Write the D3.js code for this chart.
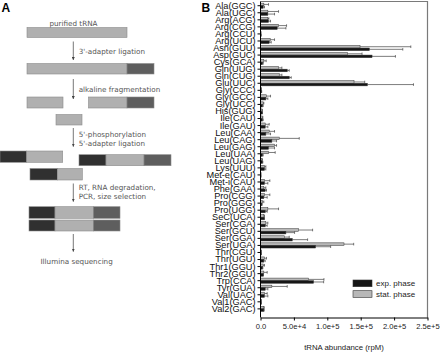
<!DOCTYPE html>
<html>
<head>
<meta charset="utf-8">
<script src="https://cdn.jsdelivr.net/npm/d3@7"></script>
<style>
  body { margin: 0; background: #fff; }
  svg { display: block; }
  .diag text { font-family: "DejaVu Sans", sans-serif; font-size: 7.2px; fill: #555; }
  .chart text { font-family: "Liberation Sans", Arial, sans-serif; }
</style>
</head>
<body>
<div id="chart"></div>
<script>
// tRNA species (panel B)
const categories = [
  "Ala(GGC)", "Ala(UGC)", "Arg(ACG)", "Arg(CCG)", "Arg(CCU)", "Arg(UCU)", "Asn(GUU)", "Asp(GUC)",
  "Cys(GCA)", "Gln(UUG)", "Gln(CUG)", "Glu(UUC)", "Gly(CCC)", "Gly(GCC)", "Gly(UCC)", "His(GUG)",
  "Ile(CAU)", "Ile(GAU)", "Leu(CAA)", "Leu(CAG)", "Leu(GAG)", "Leu(UAA)", "Leu(UAG)", "Lys(UUU)",
  "Met-e(CAU)", "Met-i(CAU)", "Phe(GAA)", "Pro(CGG)", "Pro(GGG)", "Pro(UGG)", "SeC(UCA)", "Ser(CGA)",
  "Ser(GCU)", "Ser(GGA)", "Ser(UGA)", "Thr(CGU)", "Thr(UGU)", "Thr1(GGU)", "Thr2(GGU)", "Trp(CCA)",
  "Tyr(GUA)", "Val(UAC)", "Val1(GAC)", "Val2(GAC)"
];

// stationary phase (grey bars)
const statValues = [5000, 11000, 11000, 27000, 500, 14500, 149000, 130000,
  5000, 27000, 28000, 140000, 1000, 9000, 4000, 2000,
  2500, 7000, 13000, 28000, 21000, 12000, 2000, 6000,
  500, 6000, 5000, 6000, 3000, 11000, 5000, 8000,
  57000, 36000, 125000, 1000, 6000, 4000, 5000, 72000,
  17000, 6000, 1000, 5000];
const statErr = [7000, 16000, 1500, 12000, 300, 6500, 76000, 22000,
  3500, 5000, 4000, 16000, 300, 6000, 1000, 1000,
  1000, 6000, 8000, 30000, 3000, 10000, 1000, 2000,
  300, 8000, 3000, 8000, 2000, 16000, 1000, 3000,
  21000, 7000, 14500, 300, 3000, 2000, 5000, 23000,
  23000, 4000, 300, 500];

// exponential phase (black bars)
const expValues = [4000, 11000, 12000, 25000, 800, 13000, 163000, 167000,
  3000, 40000, 43000, 160000, 1500, 8000, 3000, 2500,
  3000, 7000, 8000, 17000, 12000, 3000, 3000, 6000,
  600, 6000, 7000, 5000, 2000, 7000, 5500, 7000,
  38000, 47500, 82500, 1000, 5000, 3000, 4000, 79500,
  7000, 6000, 1000, 5000];
const expErr = [2000, 10000, 3000, 13000, 300, 3000, 50000, 35000,
  1000, 3000, 3000, 69000, 300, 3000, 1000, 500,
  1000, 4000, 7000, 7000, 9000, 1000, 500, 2000,
  300, 5000, 2000, 5000, 500, 3000, 500, 3000,
  13000, 23000, 22500, 300, 2000, 500, 500, 15000,
  4000, 5000, 300, 500];

const xTicks = [0, 5e4, 1e5, 1.5e5, 2e5, 2.5e5];
const seriesNames = ["stat. phase", "exp. phase"];
const seriesColors = { "exp. phase": "#161616", "stat. phase": "#b8b8b8" };

const svg = d3.select("#chart").append("svg")
  .attr("width", 440)
  .attr("height", 352);

// ---------- Panel A: workflow diagram ----------
const LIGHT = "#b0b0b0", DARK3 = "#5e5e5e", DARK5 = "#303030";
const pieces = [
  // [x, y, w, h, fill]
  [27, 27.5, 100, 10, LIGHT],
  [27, 63.5, 100, 10.5, LIGHT], [127, 63.5, 27, 10.5, DARK3],
  [27, 97, 36, 11, LIGHT],
  [88.5, 97, 38.5, 11, LIGHT], [127, 97, 27, 11, DARK3],
  [56, 114.5, 26, 10.5, LIGHT],
  [0, 151, 26.7, 11.3, DARK5], [26.7, 151, 36, 11.3, LIGHT],
  [79, 154.7, 27, 11, DARK5], [106, 154.7, 38, 11, LIGHT], [144, 154.7, 27, 11, DARK3],
  [30, 168.5, 27.3, 11.5, DARK5], [57.3, 168.5, 25, 11.5, LIGHT],
  [29, 206.7, 26, 11.6, DARK5], [55, 206.7, 38.3, 11.6, LIGHT], [93.3, 206.7, 26.7, 11.6, DARK3],
  [29, 220, 26, 11, DARK5], [55, 220, 38.3, 11, LIGHT], [93.3, 220, 26.7, 11, DARK3]
];
const arrows = [[41.5, 60], [79, 99], [128, 146.7], [183.5, 201.7], [234, 251.7]];
const labels = [
  ["purified tRNA", 49.5, 25.5],
  ["3'-adapter ligation", 78.7, 53.5],
  ["alkaline fragmentation", 78.7, 91.5],
  ["5'-phosphorylation", 78.7, 136.5],
  ["5'-adapter ligation", 78.7, 145.5],
  ["RT, RNA degradation,", 78.7, 189.5],
  ["PCR, size selection", 78.7, 198.5],
  ["Illumina sequencing", 40.5, 263.5]
];

const diag = svg.append("g").attr("class", "diag");
diag.selectAll("rect").data(pieces).join("rect")
  .attr("x", d => d[0]).attr("y", d => d[1])
  .attr("width", d => d[2]).attr("height", d => d[3])
  .attr("fill", d => d[4])
  .attr("stroke", "#8a8a8a").attr("stroke-width", 0.6);

svg.append("defs").append("marker")
  .attr("id", "head").attr("viewBox", "0 0 10 10")
  .attr("refX", 10).attr("refY", 5)
  .attr("markerWidth", 4).attr("markerHeight", 4)
  .attr("orient", "auto")
  .append("path").attr("d", "M0,0L10,5L0,10z").attr("fill", "#444");

diag.selectAll("line").data(arrows).join("line")
  .attr("x1", 73.3).attr("x2", 73.3)
  .attr("y1", d => d[0]).attr("y2", d => d[1])
  .attr("stroke", "#555").attr("stroke-width", 0.8)
  .attr("marker-end", "url(#head)");

diag.selectAll("text").data(labels).join("text")
  .attr("x", d => d[1]).attr("y", d => d[2])
  .style("fill", "#555")
  .text(d => d[0]);

// panel letters
svg.append("text").attr("x", 1.5).attr("y", 11.5).text("A")
  .style("font", "bold 12px 'Liberation Sans', Arial, sans-serif").style("fill", "#000");
svg.append("text").attr("x", 201.5).attr("y", 11.5).text("B")
  .style("font", "bold 12px 'Liberation Sans', Arial, sans-serif").style("fill", "#000");

// ---------- Panel B: bar chart ----------
const chart = svg.append("g").attr("class", "chart");

const x = d3.scaleLinear().domain([0, 2.5e5]).range([260.5, 427.5]);
const y = d3.scaleBand().domain(categories).range([2.2, 312.4]);
const ySub = d3.scaleBand().domain(seriesNames).range([0, y.bandwidth()])
  .paddingInner(0).paddingOuter(0.36);

// frame (top and right)
chart.append("path")
  .attr("d", `M${x(0)},1.5H${x(2.5e5)}V317.5`)
  .attr("fill", "none").attr("stroke", "#7a7a7a").attr("stroke-width", 1.2);

const rows = categories.map((c, i) => ({
  cat: c,
  series: [
    { name: "stat. phase", v: statValues[i], e: statErr[i] },
    { name: "exp. phase", v: expValues[i], e: expErr[i] }
  ]
}));

const groups = chart.selectAll(".row").data(rows).join("g")
  .attr("class", "row")
  .attr("transform", d => `translate(0,${y(d.cat)})`);

const bars = groups.selectAll("g").data(d => d.series).join("g");

// error whiskers
bars.append("line")
  .attr("x1", d => x(d.v)).attr("x2", d => x(d.v + d.e))
  .attr("y1", d => ySub(d.name) + ySub.bandwidth() / 2)
  .attr("y2", d => ySub(d.name) + ySub.bandwidth() / 2)
  .attr("stroke", "#444").attr("stroke-width", 0.7);
bars.append("line")
  .attr("x1", d => x(d.v + d.e)).attr("x2", d => x(d.v + d.e))
  .attr("y1", d => ySub(d.name))
  .attr("y2", d => ySub(d.name) + ySub.bandwidth())
  .attr("stroke", "#444").attr("stroke-width", 0.7);

bars.append("rect")
  .attr("x", x(0))
  .attr("y", d => ySub(d.name))
  .attr("width", d => x(d.v) - x(0))
  .attr("height", ySub.bandwidth())
  .attr("fill", d => seriesColors[d.name])
  .attr("stroke", "#333").attr("stroke-width", 0.5);

// axes
const yAxis = chart.append("g")
  .attr("transform", `translate(${x(0)},0)`)
  .call(d3.axisLeft(y).tickSize(3).tickPadding(2).tickSizeOuter(0));
yAxis.select(".domain").attr("d", "M0,1.5V317.5");
yAxis.selectAll("text")
  .style("font-family", "'Liberation Sans Narrow', 'Liberation Sans', Arial, sans-serif")
  .style("font-size", "9.2px").style("fill", "#111");

const xAxis = chart.append("g")
  .attr("transform", "translate(0,317.5)")
  .call(d3.axisBottom(x).tickValues(xTicks).tickSize(3).tickPadding(3).tickSizeOuter(0)
    .tickFormat(d => d === 0 ? "0.0" : d3.format(".1e")(d)));
xAxis.selectAll("text").style("font-size", "7.6px").style("fill", "#222");

chart.append("text")
  .attr("x", (x(0) + x(2.5e5)) / 2).attr("y", 349.5)
  .attr("text-anchor", "middle")
  .style("font-size", "7.8px").style("fill", "#222")
  .text("tRNA abundance (rpM)");

// legend
const legend = chart.selectAll(".leg").data(["exp. phase", "stat. phase"]).join("g")
  .attr("class", "leg")
  .attr("transform", (d, i) => `translate(353,${280 + i * 10.7})`);
legend.append("rect")
  .attr("width", 19).attr("height", 6.7)
  .attr("fill", d => seriesColors[d])
  .attr("stroke", "#333").attr("stroke-width", 0.6);
legend.append("text")
  .attr("x", 23).attr("y", 6.3)
  .style("font-size", "8px").style("fill", "#222")
  .text(d => d);
</script>
</body>
</html>
